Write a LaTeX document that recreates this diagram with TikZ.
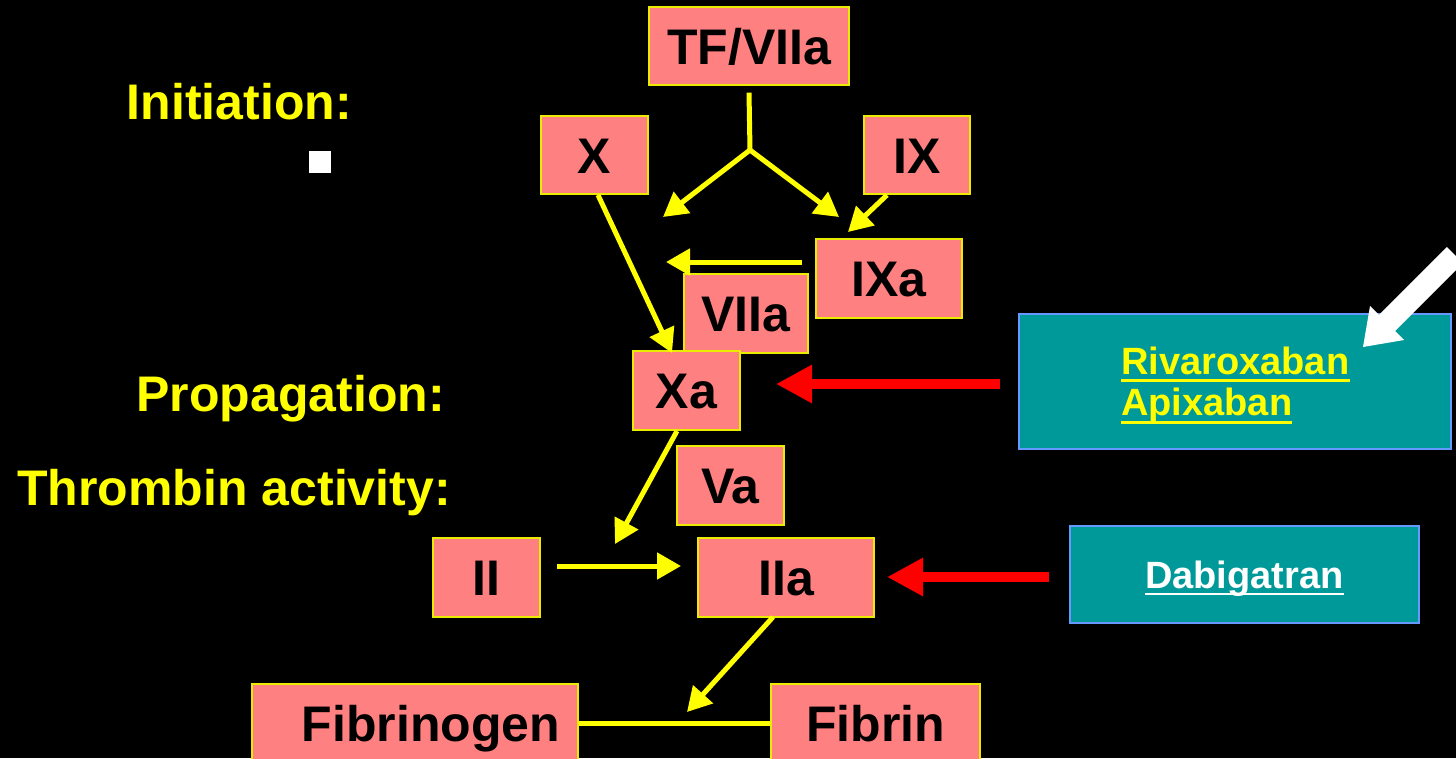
\documentclass[tikz,border=0pt]{standalone}
\usepackage{fontspec}
\setmainfont{Liberation Sans}
\usetikzlibrary{arrows.meta}

\definecolor{boxfill}{RGB}{255,128,128}
\definecolor{boxline}{RGB}{235,235,0}
\definecolor{drugfill}{RGB}{0,153,153}
\definecolor{drugline}{RGB}{102,153,255}
\definecolor{hl}{RGB}{255,255,0}
\definecolor{inhib}{RGB}{255,0,0}

\begin{document}
\begin{tikzpicture}[x=1pt,y=-1pt,
  big/.style={font=\fontsize{50}{60}\selectfont\bfseries},
  factor/.style={big, draw=boxline, line width=1.3pt, fill=boxfill, inner sep=0pt,
    text=black, text height=36pt, text depth=0pt},
  phase/.style={big, text=hl, inner sep=0pt, anchor=base east},
  drugbox/.style={draw=drugline, line width=2pt, fill=drugfill, inner sep=0pt},
  drugname/.style={font=\fontsize{38}{41}\selectfont\bfseries, inner sep=0pt, anchor=base west},
  flow/.style={hl, line width=5pt},
  flowtip/.style={flow, -{Triangle[length=24pt,width=26pt]}},
  block/.style={inhib, line width=9.5pt, -{Triangle[length=36pt,width=36pt]}}
]
% background and frame
\fill[black] (0,0) rectangle (1456,758);
\path[use as bounding box] (0,0) rectangle (1456,758);
\clip (0,0) rectangle (1456,758);

% phase labels
\node[phase] (lini) at (352,119) {Initiation:};
\node[phase] (lpro) at (445,411) {Propagation:};
\node[phase] (lthr) at (451,505) {Thrombin activity:};
\fill[white] (309,151) rectangle (331,173);

% coagulation factors
\node[factor, minimum width=200pt, minimum height=78pt] (tf)   at (749,46)    {TF/VIIa};
\node[factor, minimum width=107pt, minimum height=78pt] (x)    at (594.5,155) {X};
\node[factor, minimum width=106pt, minimum height=78pt] (ix)   at (917,155)   {IX};
\node[factor, minimum width=146pt, minimum height=79pt] (ixa)  at (889,278.5) {IXa};
\node[factor, minimum width=124pt, minimum height=79pt] (viia) at (746,313.5) {VIIa};
\node[factor, minimum width=107pt, minimum height=79pt] (xa)   at (686.5,390.5) {Xa};
\node[factor, minimum width=107pt, minimum height=79pt] (va)   at (730.5,485.5) {Va};
\node[factor, minimum width=107pt, minimum height=79pt] (ii)   at (486.5,577.5) {II};
\node[factor, minimum width=176pt, minimum height=79pt] (iia)  at (786,577.5)   {IIa};
\node[factor, minimum width=326pt, minimum height=78pt] (fgn)  at (415,723)     {\hspace*{32pt}Fibrinogen};
\node[factor, minimum width=209pt, minimum height=78pt] (fbn)  at (875.5,723)   {Fibrin};

% inhibitors
\node[drugbox, minimum width=432pt, minimum height=135pt] (riva) at (1235,381.5) {};
\node[drugbox, minimum width=349pt, minimum height=97pt]  (dabi) at (1244.5,574.5) {};
\node[drugname, text=hl] (rivt) at (1121,374) {Rivaroxaban};
\node[drugname, text=hl] (apit) at (1121,415) {Apixaban};
\node[drugname, text=white] (dabt) at (1145,588) {Dabigatran};
\draw[hl, line width=3pt] ([yshift=-6pt]rivt.base west) -- ([yshift=-6pt]rivt.base east);
\draw[hl, line width=3pt] ([yshift=-7pt]apit.base west) -- ([yshift=-7pt]apit.base east);
\draw[white, line width=2.5pt] ([yshift=-6pt]dabt.base west) -- ([yshift=-6pt]dabt.base east);

% arrow ends
\coordinate (fork)   at (750,150);
\coordinate (tfL)    at (663,217);
\coordinate (tfR)    at (839,217);
\coordinate (ixS)    at (887,195);
\coordinate (ixE)    at (848,232);
\coordinate (ixaS)   at (802,262);
\coordinate (ixaE)   at (666,262);
\coordinate (xS)     at (598,195);
\coordinate (xE)     at (672,353);
\coordinate (xaS)    at (677,431);
\coordinate (xaE)    at (615,544);
\coordinate (iiS)    at (557,566);
\coordinate (iiE)    at (681,566);
\coordinate (iiaS)   at (773,617);
\coordinate (iiaE)   at (687,712);
\coordinate (rivS)   at (1000,384);
\coordinate (rivE)   at (776,384);
\coordinate (dabS)   at (1049,577);
\coordinate (dabE)   at (887,577);

% cascade
\draw[flow] ([yshift=-7pt]tf.south) -- (fork);
\draw[flowtip] (fork) -- (tfL);
\draw[flowtip] (fork) -- (tfR);
\draw[flowtip] (ixS) -- (ixE);
\draw[flowtip] (ixaS) -- (ixaE);
\draw[flowtip] (xS) -- (xE);
\draw[flowtip] (xaS) -- (xaE);
\draw[flowtip] (iiS) -- (iiE);
\draw[flowtip] (iiaS) -- (iiaE);
\draw[flow] (fgn.east) -- (fbn.west);

% inhibition
\draw[block] (rivS) -- (rivE);
\draw[block] (dabS) -- (dabE);

% pointer onto the oral Xa inhibitors
\fill[white] (1363,347) -- (1370,306) -- (1378.9,314.9) -- (1446.8,247.0)
  -- (1463.0,263.2) -- (1395.1,331.1) -- (1404,340) -- cycle;
\end{tikzpicture}
\end{document}
